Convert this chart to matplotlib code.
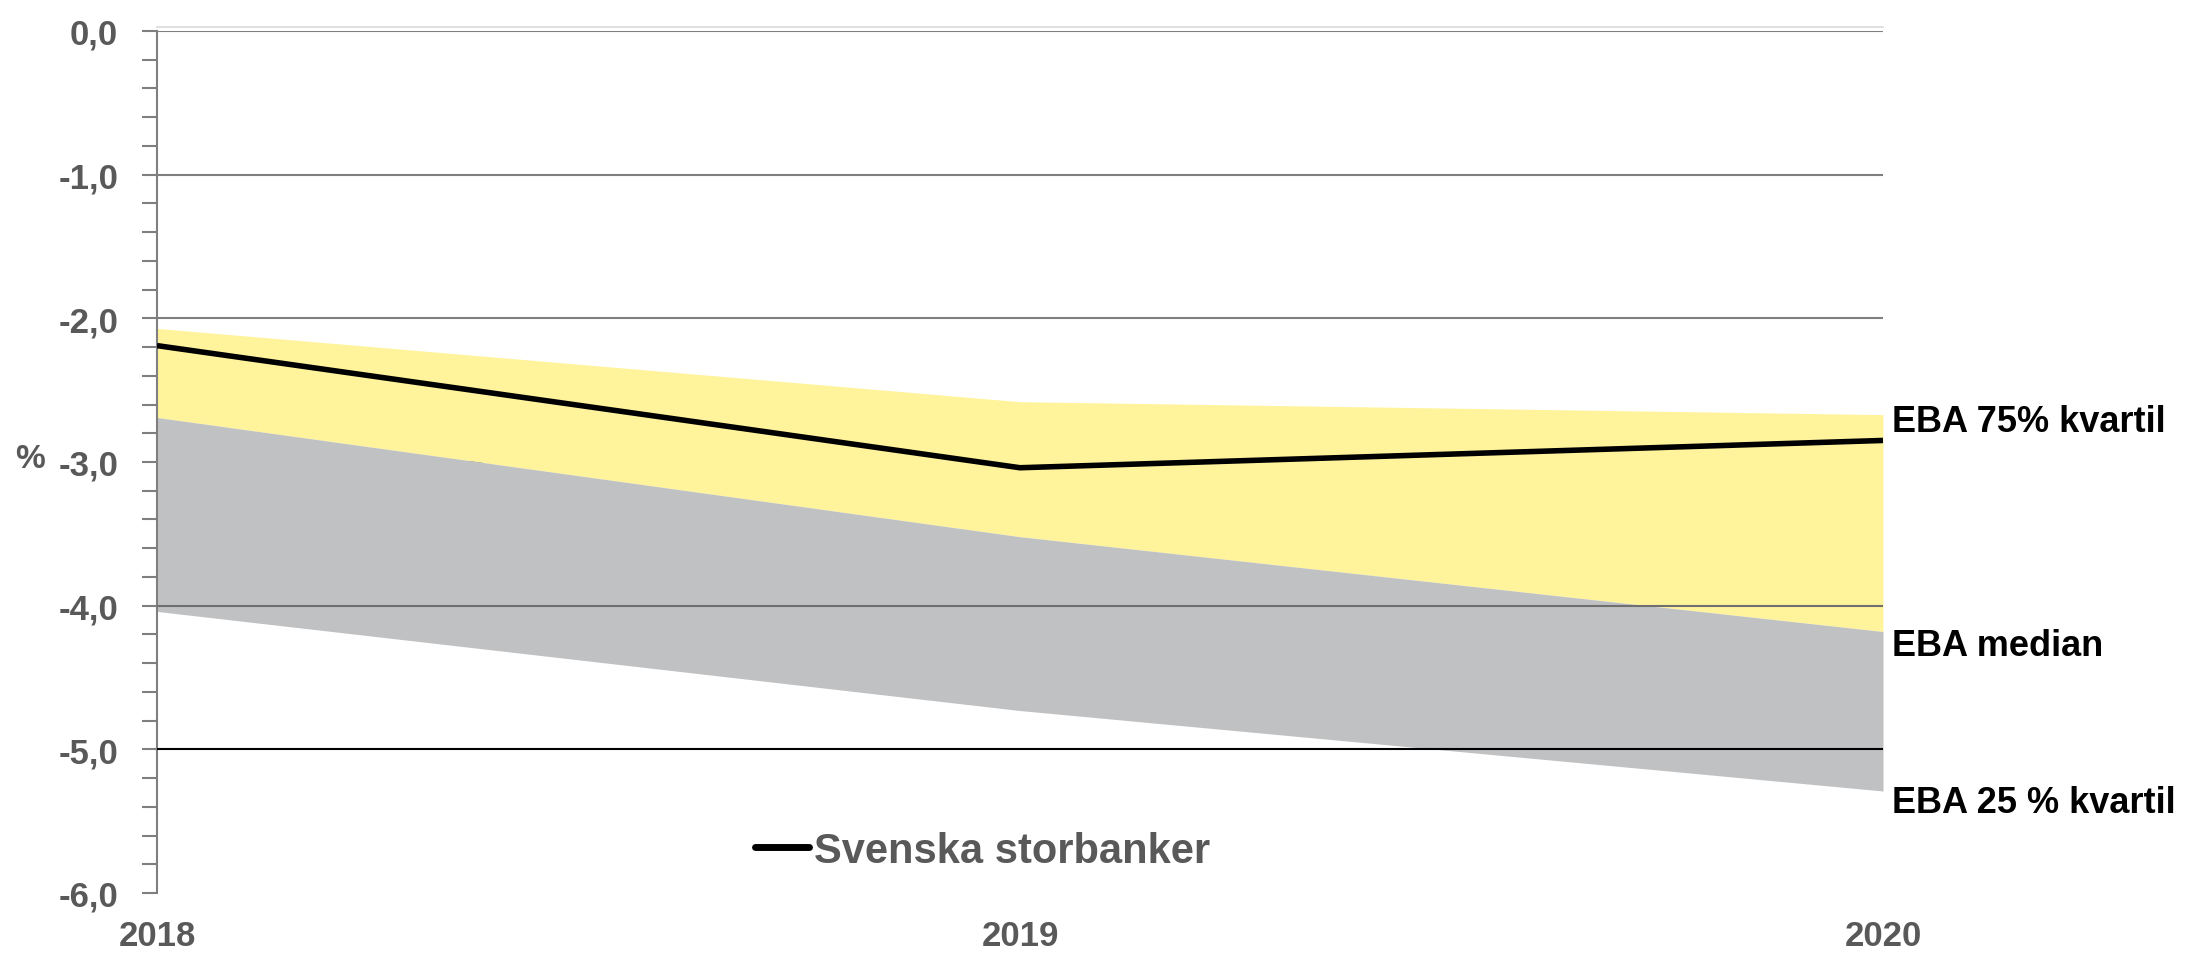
import matplotlib
matplotlib.use('Agg')
import matplotlib.pyplot as plt
from matplotlib.ticker import MultipleLocator, FuncFormatter

years = [2018, 2019, 2020]
eba_75 = [-2.07, -2.58, -2.67]
eba_median = [-2.69, -3.52, -4.18]
eba_25 = [-4.04, -4.73, -5.29]
svenska = [-2.19, -3.04, -2.85]

label_75 = 'EBA 75% kvartil'
label_med = 'EBA median'
label_25 = 'EBA 25 % kvartil'
label_line = 'Svenska storbanker'

GREY = '#595959'
FONT = 'Liberation Sans'

fig = plt.figure(figsize=(21.94, 9.54), dpi=100)
ax = fig.add_axes([157 / 2194, 1 - 894 / 954, (1883 - 157) / 2194, (894 - 32) / 954])

# gridlines below the fills
for yv in [0, -1, -2, -3]:
    ax.axhline(yv, color='#7f7f7f', lw=1.5, zorder=1)
ax.axhline(0.03, color='#d9d9d9', lw=1.2, zorder=1, clip_on=False)

ax.fill_between(years, eba_75, eba_median, color='#fff49c', lw=0, zorder=2)
ax.fill_between(years, eba_median, eba_25, color='#c0c1c3', lw=0, zorder=2)

# these two lines sit on top of the fills in the original
ax.axhline(-4, color='#6f6f6f', lw=1.5, zorder=3)
ax.axhline(-5, color='black', lw=1.5, zorder=3)

ax.plot(years, svenska, color='black', lw=4, zorder=4, label=label_line,
        solid_capstyle='butt')

ax.set_xlim(2018, 2020)
ax.set_ylim(-6, 0)

ax.yaxis.set_major_locator(MultipleLocator(1))
ax.yaxis.set_minor_locator(MultipleLocator(0.2))
ax.yaxis.set_major_formatter(FuncFormatter(lambda v, p: f'{v:.1f}'.replace('.', ',')))
ax.tick_params(axis='y', which='both', direction='out', length=11, width=1.5,
               color='#7f7f7f', pad=17)
ax.tick_params(axis='y', labelsize=25, labelcolor=GREY)
for t in ax.get_yticklabels():
    t.set_fontfamily(FONT)
    t.set_fontweight('bold')

ax.set_xticks(years)
ax.set_xticklabels([str(y) for y in years], family=FONT,
                   fontweight='bold', fontsize=25, color=GREY)
ax.tick_params(axis='x', length=0, pad=19)

for s in ['top', 'right', 'bottom']:
    ax.spines[s].set_visible(False)
ax.spines['left'].set_color('#7f7f7f')
ax.spines['left'].set_linewidth(1.5)

fig.text(30 / 2194, 1 - 460 / 954, '%', ha='center', va='center', fontsize=24,
         fontweight='bold', color=GREY, family=FONT)

for txt, yv in [(label_75, -2.72), (label_med, -4.28), (label_25, -5.37)]:
    ax.text(2020.01, yv, txt, ha='left', va='center', fontsize=26,
            fontweight='bold', color='black', family=FONT, clip_on=False)

leg = ax.legend(loc='center left', bbox_to_anchor=(755 / 2194, 1 - 852 / 954),
                bbox_transform=fig.transFigure, frameon=False, borderpad=0,
                borderaxespad=0, handlelength=1.3, handletextpad=0.12,
                prop={'family': FONT, 'weight': 'bold', 'size': 30})
for t in leg.get_texts():
    t.set_color(GREY)
for h in leg.legend_handles:
    h.set_linewidth(5)
    h.set_solid_capstyle('round')

fig.savefig('out.png', dpi=100)
